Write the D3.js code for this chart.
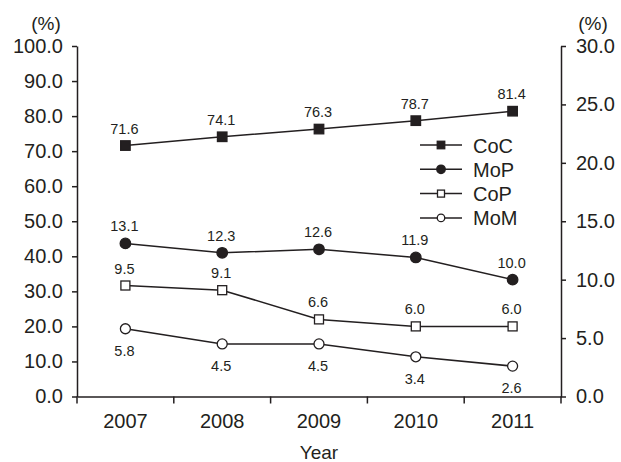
<!DOCTYPE html>
<html>
<head>
<meta charset="utf-8">
<script src="https://cdn.jsdelivr.net/npm/d3@7"></script>
<style>
  html, body { margin: 0; padding: 0; background: #fff; }
  svg { display: block; }
  text { font-family: "Liberation Sans", Arial, Helvetica, sans-serif; fill: #231f20; }
</style>
</head>
<body>
<svg id="chart" width="621" height="462"></svg>
<script>
const years = ["2007", "2008", "2009", "2010", "2011"];
const cocValues = [71.6, 74.1, 76.3, 78.7, 81.4];
const mopValues = [13.1, 12.3, 12.6, 11.9, 10.0];
const copValues = [9.5, 9.1, 6.6, 6.0, 6.0];
const momValues = [5.8, 4.5, 4.5, 3.4, 2.6];
const leftTicks = [0, 10, 20, 30, 40, 50, 60, 70, 80, 90, 100];
const rightTicks = [0, 5, 10, 15, 20, 25, 30];
const seriesNames = ["CoC", "MoP", "CoP", "MoM"];

(function () {
const ink = "#231f20";
const svg = d3.select("#chart");
const mLeft = 77, mRight = 561, mTop = 46, mBottom = 396.5;

const x = d3.scaleBand().domain(years).range([mLeft, mRight]).padding(0);
const cx = d => x(d) + x.bandwidth() / 2;
const yL = d3.scaleLinear().domain([0, 100]).range([mBottom, mTop]);
const yR = d3.scaleLinear().domain([0, 30]).range([mBottom, mTop]);
const fmt = d3.format(".1f");

const gL = svg.append("g").attr("transform", `translate(${mLeft},0)`)
  .call(d3.axisLeft(yL).tickValues(leftTicks).tickFormat(fmt).tickSize(5).tickPadding(9).tickSizeOuter(0));
const gR = svg.append("g").attr("transform", `translate(${mRight},0)`)
  .call(d3.axisRight(yR).tickValues(rightTicks).tickFormat(fmt).tickSize(5).tickPadding(10).tickSizeOuter(0));
const gB = svg.append("g").attr("transform", `translate(0,${mBottom})`)
  .call(d3.axisBottom(x).tickSize(0).tickPadding(17).tickSizeOuter(0));
const bounds = years.map(d => x(d)).concat([x(years[years.length - 1]) + x.bandwidth()]);
gB.selectAll("line.bt").data(bounds).enter().append("line")
  .attr("class", "bt").attr("x1", d => d).attr("x2", d => d).attr("y1", 0).attr("y2", 7)
  .attr("stroke", ink).attr("stroke-width", 1.5);

[gL, gR, gB].forEach(g => {
  g.selectAll(".domain").attr("stroke", ink).attr("stroke-width", 1.5);
  g.selectAll(".tick line").attr("stroke", ink).attr("stroke-width", 1.5);
  g.selectAll(".tick text").attr("fill", ink).style("font-size", "20px")
    .style("font-family", '"Liberation Sans", Arial, sans-serif');
});

svg.append("text").attr("x", 46).attr("y", 30).attr("text-anchor", "middle")
  .style("font-size", "19px").text("(%)");
svg.append("text").attr("x", 593).attr("y", 30).attr("text-anchor", "middle")
  .style("font-size", "19px").text("(%)");
svg.append("text").attr("x", cx("2009")).attr("y", 459).attr("text-anchor", "middle")
  .style("font-size", "19px").text("Year");

const series = [
  { name: seriesNames[0], values: cocValues, y: yL, shape: "square", fill: ink, size: 9.5, dy: -12 },
  { name: seriesNames[1], values: mopValues, y: yR, shape: "circle", fill: ink, size: 10.5, dy: -12 },
  { name: seriesNames[2], values: copValues, y: yR, shape: "square", fill: "#fff", size: 9, dy: -12 },
  { name: seriesNames[3], values: momValues, y: yR, shape: "circle", fill: "#fff", size: 10, dy: 27 }
];

function drawMarker(g, shape, px, py, size, fill) {
  if (shape === "square") {
    g.append("rect").attr("x", px - size / 2).attr("y", py - size / 2)
      .attr("width", size).attr("height", size)
      .attr("fill", fill).attr("stroke", ink).attr("stroke-width", 1.3);
  } else {
    g.append("circle").attr("cx", px).attr("cy", py).attr("r", size / 2)
      .attr("fill", fill).attr("stroke", ink).attr("stroke-width", 1.3);
  }
}

series.forEach(s => {
  const pts = years.map((yr, i) => [cx(yr), s.y(s.values[i])]);
  svg.append("path").attr("d", d3.line()(pts))
    .attr("fill", "none").attr("stroke", ink).attr("stroke-width", 1.5);
  const g = svg.append("g");
  pts.forEach((p, i) => {
    drawMarker(g, s.shape, p[0], p[1], s.size, s.fill);
    svg.append("text").attr("x", p[0] - 1).attr("y", p[1] + s.dy)
      .attr("text-anchor", "middle").style("font-size", "14.5px")
      .text(fmt(s.values[i]));
  });
});

const legend = svg.append("g");
const legendSizes = [7.5, 8.5, 7, 7.5];
series.forEach((s, i) => {
  const ly = 145 + i * 24.3;
  legend.append("line").attr("x1", 420).attr("x2", 462).attr("y1", ly).attr("y2", ly)
    .attr("stroke", ink).attr("stroke-width", 1.5);
  drawMarker(legend, s.shape, 441, ly, legendSizes[i], s.fill);
  legend.append("text").attr("x", 473).attr("y", ly + 7.5)
    .style("font-size", "20px").text(s.name);
});
})();
</script>
</body>
</html>
